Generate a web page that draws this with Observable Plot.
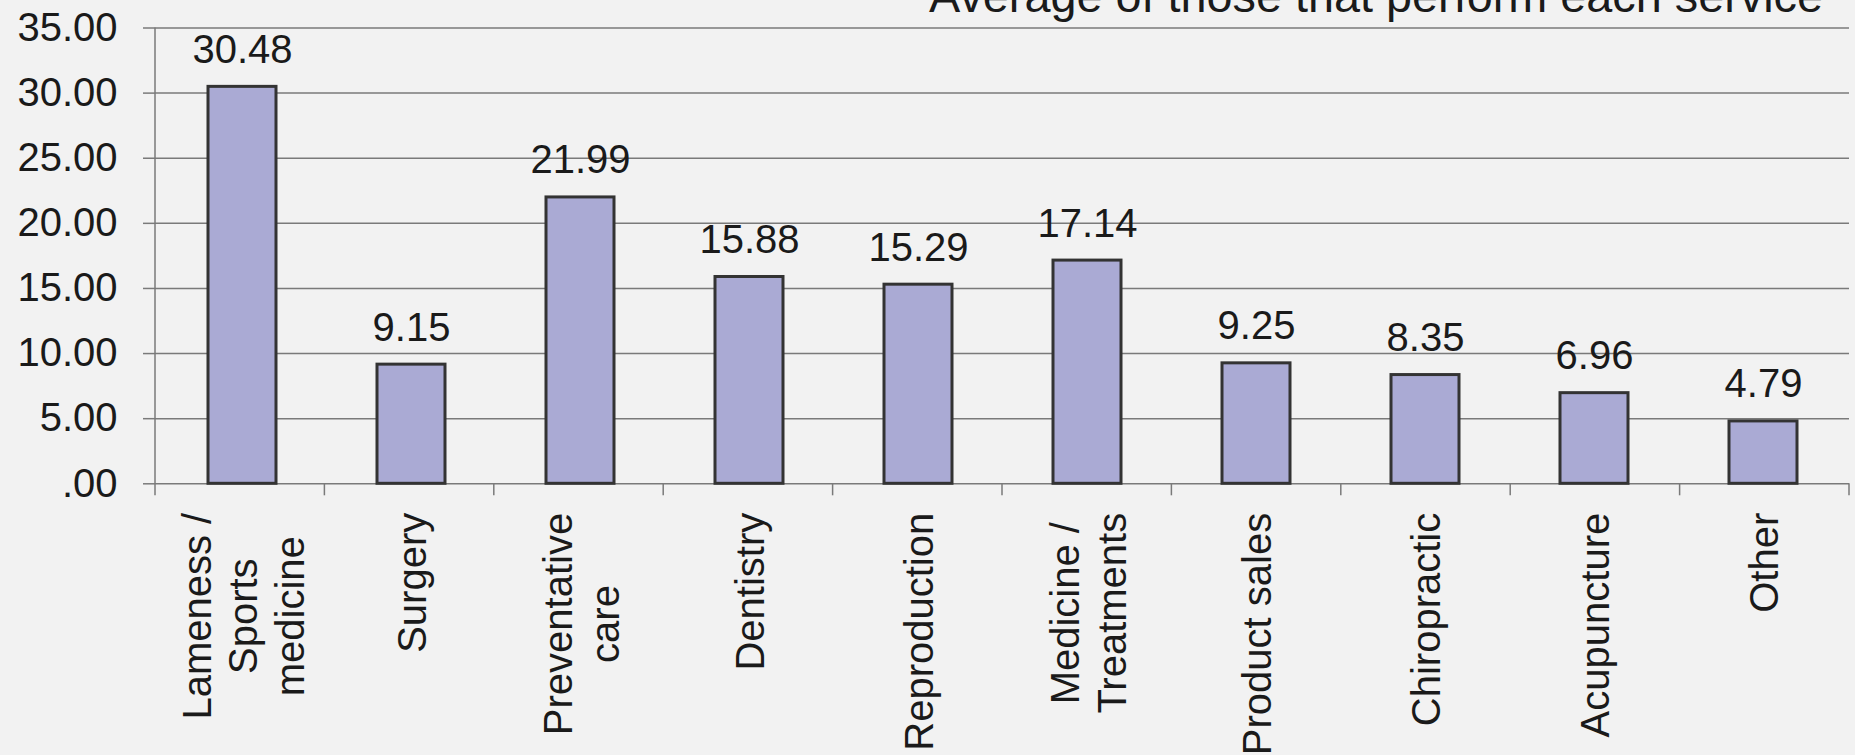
<!DOCTYPE html>
<html>
<head>
<meta charset="utf-8">
<script src="https://cdn.jsdelivr.net/npm/d3@7"></script>
<script src="https://cdn.jsdelivr.net/npm/@observablehq/plot@0.6"></script>
<style>
  html, body { margin: 0; padding: 0; background: #f2f2f2; overflow: hidden; }
  #wrap { position: relative; width: 1855px; height: 755px; }
  #title {
    position: absolute; top: -27px; right: 32px;
    font-family: "Liberation Sans", Arial, sans-serif; font-size: 46.8px; line-height: 46px;
    color: #1a1a1a; white-space: nowrap;
  }
</style>
</head>
<body>
<div id="wrap">
  <div id="chart"></div>
  <div id="title">Average of those that perform each service</div>
</div>
<script>
const categories = [
  "Lameness /\nSports\nmedicine",
  "Surgery",
  "Preventative\ncare",
  "Dentistry",
  "Reproduction",
  "Medicine /\nTreatments",
  "Product sales",
  "Chiropractic",
  "Acupuncture",
  "Other"
];
const values = [30.48, 9.15, 21.99, 15.88, 15.29, 17.14, 9.25, 8.35, 6.96, 4.79];
const yTicks = [0, 5, 10, 15, 20, 25, 30, 35];

const data = categories.map((c, i) => ({category: c, value: values[i]}));
const fmt = d => d === 0 ? ".00" : d.toFixed(2);
const FONT = "'Liberation Sans', Arial, sans-serif";

const boundaryTicks = (index, scales, values, dims) => {
  const {marginLeft, marginRight, marginTop, width} = dims;
  const n = categories.length;
  const step = (width - marginLeft - marginRight) / n;
  const y0 = scales.y(0);
  const g = d3.create("svg:g").attr("stroke", "#7a7a7a").attr("stroke-width", 1.5);
  for (let i = 0; i <= n; ++i) {
    const x = marginLeft + i * step;
    g.append("line").attr("x1", x).attr("x2", x).attr("y1", y0).attr("y2", y0 + 12);
  }
  g.append("line").attr("x1", marginLeft).attr("x2", marginLeft).attr("y1", marginTop).attr("y2", y0)
    .attr("stroke", "#7a7a7a");
  return g.node();
};

const chart = Plot.plot({
  width: 1855,
  height: 755,
  marginLeft: 155,
  marginRight: 6,
  marginTop: 27.5,
  marginBottom: 271.7,
  style: {background: "transparent", fontFamily: FONT, fontSize: "40px", color: "#1a1a1a", overflow: "visible"},
  x: {domain: categories, paddingInner: 0.6, paddingOuter: 0.3, label: null},
  y: {domain: [0, 35], label: null},
  marks: [
    Plot.ruleY(yTicks, {stroke: "#7a7a7a", strokeWidth: 1.5}),
    Plot.barY(data, {x: "category", y: "value", fill: "#aaaad4", stroke: "#333333", strokeWidth: 3}),
    Plot.text(data, {x: "category", y: "value", text: d => d.value.toFixed(2), dy: -24, lineAnchor: "bottom", fontSize: 40, fill: "#1a1a1a"}),
    Plot.axisY({ticks: yTicks, tickSize: 12, tickPadding: 26, tickFormat: fmt, stroke: "#7a7a7a", strokeWidth: 1.5, fontSize: 40, label: null}),
    Plot.axisX({tickSize: 0, tickPadding: 29, tickRotate: -90, textAnchor: "end", lineAnchor: "middle", lineHeight: 1.17, fontSize: 40, label: null}),
    boundaryTicks
  ]
});
document.getElementById("chart").appendChild(chart);

// center the lines of each multi-line category label within its block, as in the original
chart.querySelectorAll('g[aria-label="x-axis tick label"] text').forEach(t => {
  const spans = t.querySelectorAll("tspan");
  let w = 0;
  if (spans.length) spans.forEach(s => { w = Math.max(w, s.getComputedTextLength()); });
  else w = t.getComputedTextLength();
  t.setAttribute("text-anchor", "middle");
  const tr = t.getAttribute("transform") || "";
  t.setAttribute("transform", tr + ` translate(${-w / 2},0)`);
});
</script>
</body>
</html>
